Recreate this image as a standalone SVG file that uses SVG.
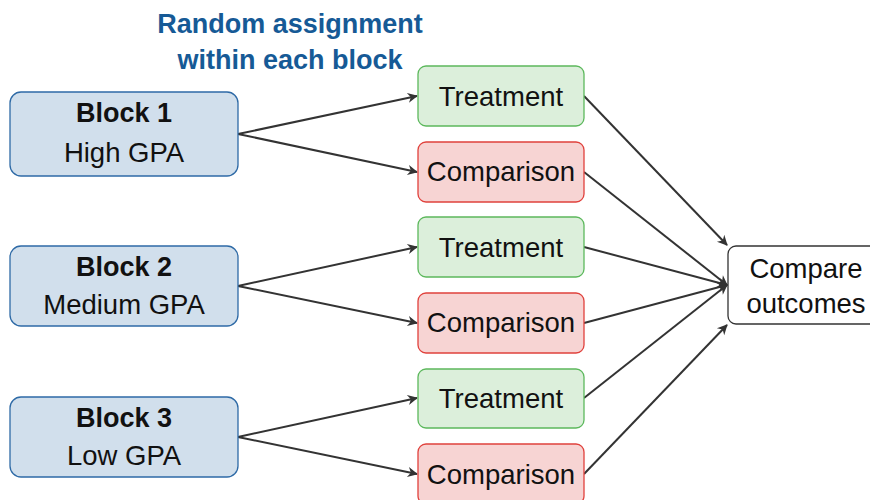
<svg xmlns="http://www.w3.org/2000/svg" width="870" height="500" viewBox="0 0 870 500">
<style>
text{font-family:"Liberation Sans","DejaVu Sans",sans-serif;fill:#111;text-anchor:middle}
.blk{fill:#d1dfec;stroke:#2e6aa6;stroke-width:1.3}
.tr{fill:#dcefdb;stroke:#5cb85c;stroke-width:1.3}
.cp{fill:#f7d4d3;stroke:#e0413c;stroke-width:1.3}
.out{fill:#fff;stroke:#333;stroke-width:1.3}
.t{font-size:27.5px}
.b{font-size:27px;font-weight:bold}
.title{font-size:27px;font-weight:bold;fill:#165a96}
.c line{stroke:#333;stroke-width:2;marker-end:url(#ah)}
</style>
<defs>
<marker id="ah" viewBox="0 0 10 10" refX="9" refY="5" markerWidth="6" markerHeight="6" markerUnits="userSpaceOnUse" orient="auto" overflow="visible">
<path d="M0,0 L10,5 L0,10 L3,5 Z" fill="#333" transform="scale(1.7) translate(-3.8,-2.1)"/>
</marker>
</defs>
<g id="title">
<text class="title" x="290" y="33">Random assignment</text>
<text class="title" x="290" y="69">within each block</text>
</g>
<g class="c" id="connectors">
<line x1="238" y1="134" x2="417" y2="96"/>
<line x1="238" y1="134" x2="417" y2="172"/>
<line x1="238" y1="286" x2="417" y2="247"/>
<line x1="238" y1="286" x2="417" y2="323"/>
<line x1="238" y1="437" x2="417" y2="398"/>
<line x1="238" y1="437" x2="417" y2="474"/>
<line x1="584" y1="96" x2="727" y2="245"/>
<line x1="584" y1="172" x2="727" y2="285"/>
<line x1="584" y1="247" x2="727" y2="285"/>
<line x1="584" y1="323" x2="727" y2="285"/>
<line x1="584" y1="398" x2="727" y2="285"/>
<line x1="584" y1="474" x2="727" y2="325"/>
</g>
<g id="block1"><rect class="blk" x="10" y="92" width="228" height="84" rx="11"/><text class="b" x="124" y="122">Block 1</text><text class="t" x="124" y="162">High GPA</text></g>
<g id="block2"><rect class="blk" x="10" y="246" width="228" height="80" rx="11"/><text class="b" x="124" y="276">Block 2</text><text class="t" x="124" y="314">Medium GPA</text></g>
<g id="block3"><rect class="blk" x="10" y="397" width="228" height="80" rx="11"/><text class="b" x="124" y="427">Block 3</text><text class="t" x="124" y="465">Low GPA</text></g>
<g id="treat1"><rect class="tr" x="418" y="66" width="166" height="60" rx="8"/><text class="t" x="501" y="106">Treatment</text></g>
<g id="comp1"><rect class="cp" x="418" y="142" width="166" height="60" rx="8"/><text class="t" x="501" y="181">Comparison</text></g>
<g id="treat2"><rect class="tr" x="418" y="217" width="166" height="60" rx="8"/><text class="t" x="501" y="257">Treatment</text></g>
<g id="comp2"><rect class="cp" x="418" y="293" width="166" height="60" rx="8"/><text class="t" x="501" y="332">Comparison</text></g>
<g id="treat3"><rect class="tr" x="418" y="369" width="166" height="59" rx="8"/><text class="t" x="501" y="408">Treatment</text></g>
<g id="comp3"><rect class="cp" x="418" y="444" width="166" height="60" rx="8"/><text class="t" x="501" y="484">Comparison</text></g>
<g id="compare"><rect class="out" x="728" y="246" width="150" height="78" rx="8"/><text class="t" x="806" y="278">Compare</text><text class="t" x="806" y="313">outcomes</text></g>
</svg>
